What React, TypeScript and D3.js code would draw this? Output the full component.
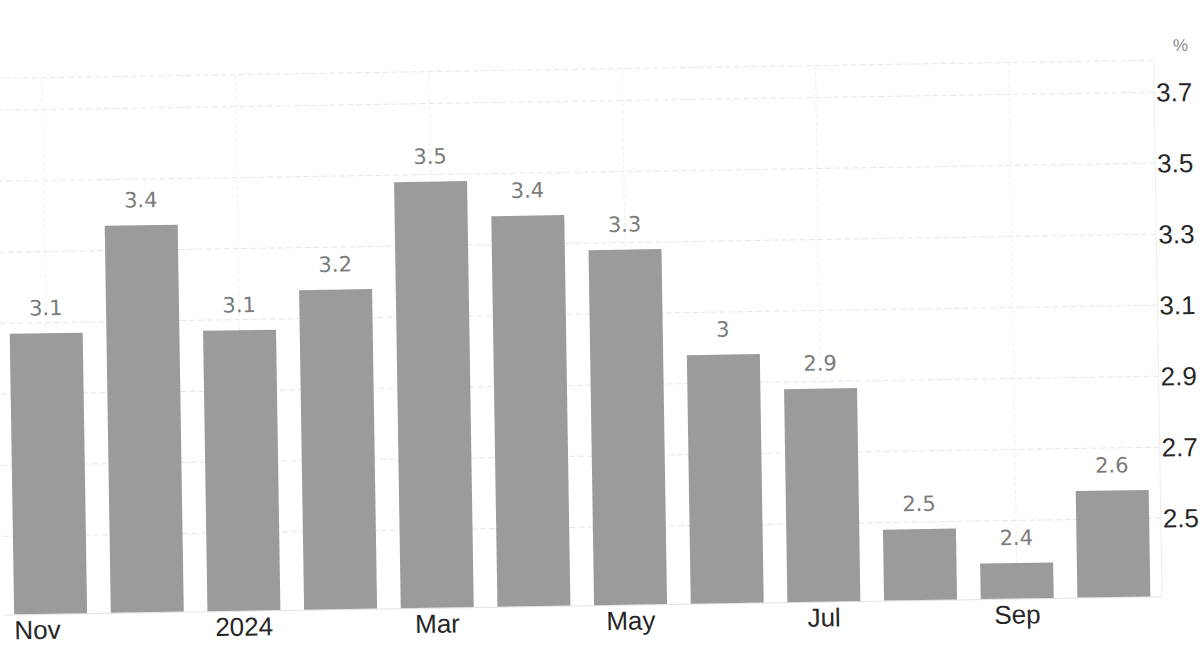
import React from "react";
import * as d3 from "d3";

const months = ["Nov 2023", "Dec 2023", "Jan 2024", "Feb 2024", "Mar 2024", "Apr 2024", "May 2024", "Jun 2024", "Jul 2024", "Aug 2024", "Sep 2024", "Oct 2024"];
const values = [3.07, 3.37, 3.07, 3.18, 3.48, 3.38, 3.28, 2.98, 2.88, 2.48, 2.38, 2.58];
const valueLabels = ["3.1", "3.4", "3.1", "3.2", "3.5", "3.4", "3.3", "3", "2.9", "2.5", "2.4", "2.6"];
const xTickLabels = ["Nov", "", "2024", "", "Mar", "", "May", "", "Jul", "", "Sep", ""];
const yTicks = [2.5, 2.7, 2.9, 3.1, 3.3, 3.5, 3.7];
const unit = "%";

const W = 1204;
const H = 645;

export default function App() {
  const x = d3
    .scaleBand<string>()
    .domain(months)
    .range([0.3, 1156])
    .paddingInner(0.245)
    .paddingOuter(0.1);
  const y = d3.scaleLinear().domain([2.28, 3.79]).range([596.1, 60]);
  const y0 = y(2.28);
  const right = 1158;

  return (
    <svg
      width={W}
      height={H}
      style={{ position: "absolute", left: 0, top: 0, background: "#fff" }}
    >
      <rect x={0} y={0} width={W} height={H} fill="#fff" />
      <g transform="rotate(-0.9 1170 340)">
        {/* horizontal grid */}
        {[...yTicks, 3.79].map((t) => (
          <line
            key={"h" + t}
            x1={0}
            x2={right}
            y1={y(t)}
            y2={y(t)}
            stroke="#e6e6e6"
            strokeWidth={1}
            strokeDasharray="6 3"
          />
        ))}
        {/* vertical grid at labelled ticks */}
        {months.map((m, i) =>
          xTickLabels[i] ? (
            <line
              key={"v" + m}
              x1={x(m)! + x.bandwidth() / 2}
              x2={x(m)! + x.bandwidth() / 2}
              y1={y(3.79)}
              y2={y0}
              stroke="#efefef"
              strokeWidth={1}
              strokeDasharray="4 3"
            />
          ) : null
        )}
        <line x1={right} x2={right} y1={y(3.79)} y2={y0} stroke="#eeeeee" strokeWidth={1} />
        <line x1={0} x2={right} y1={y0 + 0.5} y2={y0 + 0.5} stroke="#e3e3e3" strokeWidth={1} />

        {/* bars */}
        {months.map((m, i) => (
          <rect
            key={"b" + m}
            x={x(m)!}
            y={y(values[i])}
            width={x.bandwidth()}
            height={y0 - y(values[i])}
            fill="#9b9b9b"
          />
        ))}

        {/* value labels */}
        {months.map((m, i) => (
          <text
            key={"l" + m}
            x={x(m)! + x.bandwidth() / 2}
            y={y(values[i]) - 18}
            textAnchor="middle"
            fontFamily="'DejaVu Sans', Verdana, sans-serif"
            fontSize={21}
            fill="#7a7a7a"
          >
            {valueLabels[i]}
          </text>
        ))}

        {/* x axis labels */}
        {months.map((m, i) => {
          if (!xTickLabels[i]) return null;
          const first = i === 0;
          return (
            <text
              key={"x" + m}
              x={first ? x(m)! : x(m)! + x.bandwidth() / 2}
              y={y0 + 25}
              textAnchor={first ? "start" : "middle"}
              fontFamily="'Liberation Sans', Arial, sans-serif"
              fontSize={26}
              fill="#262626"
            >
              {xTickLabels[i]}
            </text>
          );
        })}

        {/* y axis labels (right) */}
        {yTicks.map((t) => (
          <text
            key={"y" + t}
            x={right + 2}
            y={y(t)}
            dy="0.36em"
            textAnchor="start"
            fontFamily="'Liberation Sans', Arial, sans-serif"
            fontSize={26}
            fill="#262626"
          >
            {d3.format(".1f")(t)}
          </text>
        ))}

        <text
          x={1185}
          y={51}
          textAnchor="middle"
          fontFamily="'Liberation Sans', Arial, sans-serif"
          fontSize={17}
          fill="#8a8a8a"
        >
          {unit}
        </text>
      </g>
    </svg>
  );
}
